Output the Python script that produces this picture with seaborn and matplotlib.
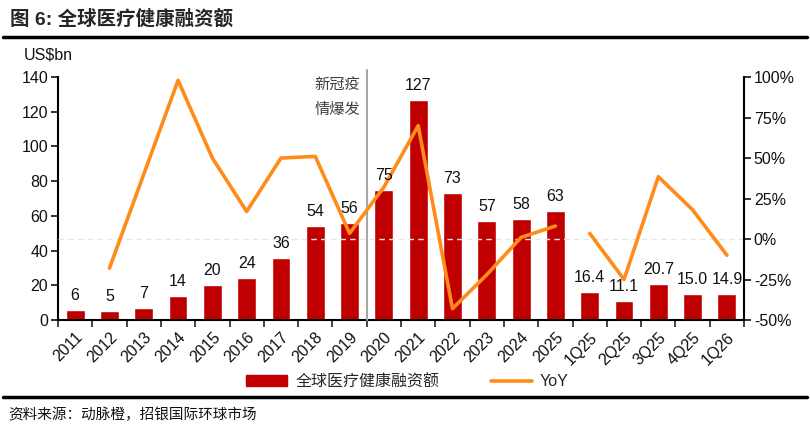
import matplotlib
matplotlib.use("Agg")
import matplotlib.pyplot as plt
from matplotlib.lines import Line2D
from matplotlib.patches import Patch
from matplotlib.ticker import FuncFormatter, FixedLocator
import seaborn as sns
import numpy as np
import pandas as pd

# data
periods = ['2011', '2012', '2013', '2014', '2015', '2016', '2017', '2018', '2019', '2020',
           '2021', '2022', '2023', '2024', '2025', '1Q25', '2Q25', '3Q25', '4Q25', '1Q26']
funding = [6, 5, 7, 14, 20, 24, 36, 54, 56, 75, 127, 73, 57, 58, 63, 16.4, 11.1, 20.7, 15.0, 14.9]
funding_labels = ['6', '5', '7', '14', '20', '24', '36', '54', '56', '75', '127', '73', '57', '58', '63',
                  '16.4', '11.1', '20.7', '15.0', '14.9']
yoy = [np.nan, -0.18, 0.40, 0.98, 0.50, 0.17, 0.50, 0.51, 0.035, 0.32, 0.70, -0.43, -0.22, 0.01, 0.08,
       0.035, -0.25, 0.385, 0.18, -0.10]
segment = [0] * 15 + [1] * 5   # annual vs quarterly, line is broken between them

sns.set_theme(style="white")
plt.rcParams['font.family'] = ['Liberation Sans', 'Noto Sans CJK SC', 'DejaVu Sans']

red = '#C00000'
orange = '#FF8C1A'

fig = plt.figure(figsize=(8.1, 4.33), dpi=100)
ax = fig.add_axes([0.0716, 0.261, 0.847, 0.561])

sns.barplot(x=periods, y=funding, color=red, saturation=1, width=0.55, ax=ax, zorder=2)

ax.set_xlim(-0.5, len(periods) - 0.5)
ax.set_ylim(0, 140)
ax.set_yticks(range(0, 141, 20))
ax.tick_params(axis='y', labelsize=11.5, length=5, width=1.2, direction='out', pad=2, left=True, colors='#111111')
ax.set_xticks(range(len(periods)))
ax.set_xticklabels(periods, rotation=45, ha='right', rotation_mode='anchor', fontsize=11.5, color='#111111')
ax.tick_params(axis='x', which='major', length=0, pad=7)
ax.xaxis.set_minor_locator(FixedLocator(np.arange(-0.5, len(periods), 1)))
ax.tick_params(axis='x', which='minor', length=5, width=1.2, direction='out', bottom=True)
for s in ['left', 'bottom']:
    ax.spines[s].set_color('black')
    ax.spines[s].set_linewidth(1.5)
ax.spines['top'].set_visible(False)
ax.spines['right'].set_visible(False)
ax.set_xlabel('')
ax.set_ylabel('')
ax.text(-0.05, 1.06, 'US$bn', transform=ax.transAxes, fontsize=11.5, ha='left', va='bottom', color='#111111')

ax2 = ax.twinx()
df = pd.DataFrame({'pos': np.arange(len(periods)), 'yoy': yoy, 'seg': segment}).dropna()
ax2.axhline(0, color='#E6E6E6', lw=1, ls=(0, (4, 3)), zorder=1)
sns.lineplot(data=df, x='pos', y='yoy', units='seg', estimator=None, color=orange, lw=2.6,
             ax=ax2, legend=False, zorder=3)
ax2.set_ylim(-0.5, 1.0)
ax2.set_yticks(np.arange(-0.5, 1.01, 0.25))
ax2.yaxis.set_major_formatter(FuncFormatter(lambda v, p: f'{v * 100:.0f}%'))
ax2.tick_params(axis='y', labelsize=11.5, length=5, width=1.2, direction='out', pad=2, right=True, colors='#111111')
ax2.spines['right'].set_color('black')
ax2.spines['right'].set_linewidth(1.5)
for s in ['top', 'left', 'bottom']:
    ax2.spines[s].set_visible(False)
ax2.set_xlabel('')
ax2.set_ylabel('')
ax2.set_xlim(-0.5, len(periods) - 0.5)

# bar value labels drawn on top of the line
for i, (v, lab) in enumerate(zip(funding, funding_labels)):
    ax2.annotate(lab, (i, v), xycoords=ax.transData, xytext=(0, 5), textcoords='offset points',
                 ha='center', va='bottom', fontsize=11.5, color='#111111', zorder=5)

# covid marker
ax2.axvline(8.5, ymin=0, ymax=1.03, color='#A6A6A6', lw=1.5, clip_on=False, zorder=2)
ax2.text(8.3, 1.0, '新冠疫\n情爆发', ha='right', va='top', fontsize=11, color='#404040',
         linespacing=1.55, family=['Noto Sans CJK SC'])

# title, rules, legend, source
fig.text(0.012, 0.955, '图 6: 全球医疗健康融资额', fontsize=14, fontweight='bold', ha='left', va='center')
fig.add_artist(Line2D([0.004, 0.996], [0.915, 0.915], color='black', lw=2.5))
fig.add_artist(Line2D([0.004, 0.996], [0.083, 0.083], color='black', lw=2.5))
handles = [Patch(color=red), Line2D([], [], color=orange, lw=2.6)]
fig.legend(handles, ['全球医疗健康融资额', 'YoY'], loc='center', bbox_to_anchor=(0.503, 0.118), ncol=2,
           frameon=False, fontsize=11.5, handlelength=2.6, handleheight=0.7, handletextpad=0.5,
           columnspacing=3.2)
fig.text(0.01, 0.042, '资料来源：动脉橙，招银国际环球市场', fontsize=10.5, ha='left', va='center', color='#111111')

fig.savefig('out.png', dpi=100)
